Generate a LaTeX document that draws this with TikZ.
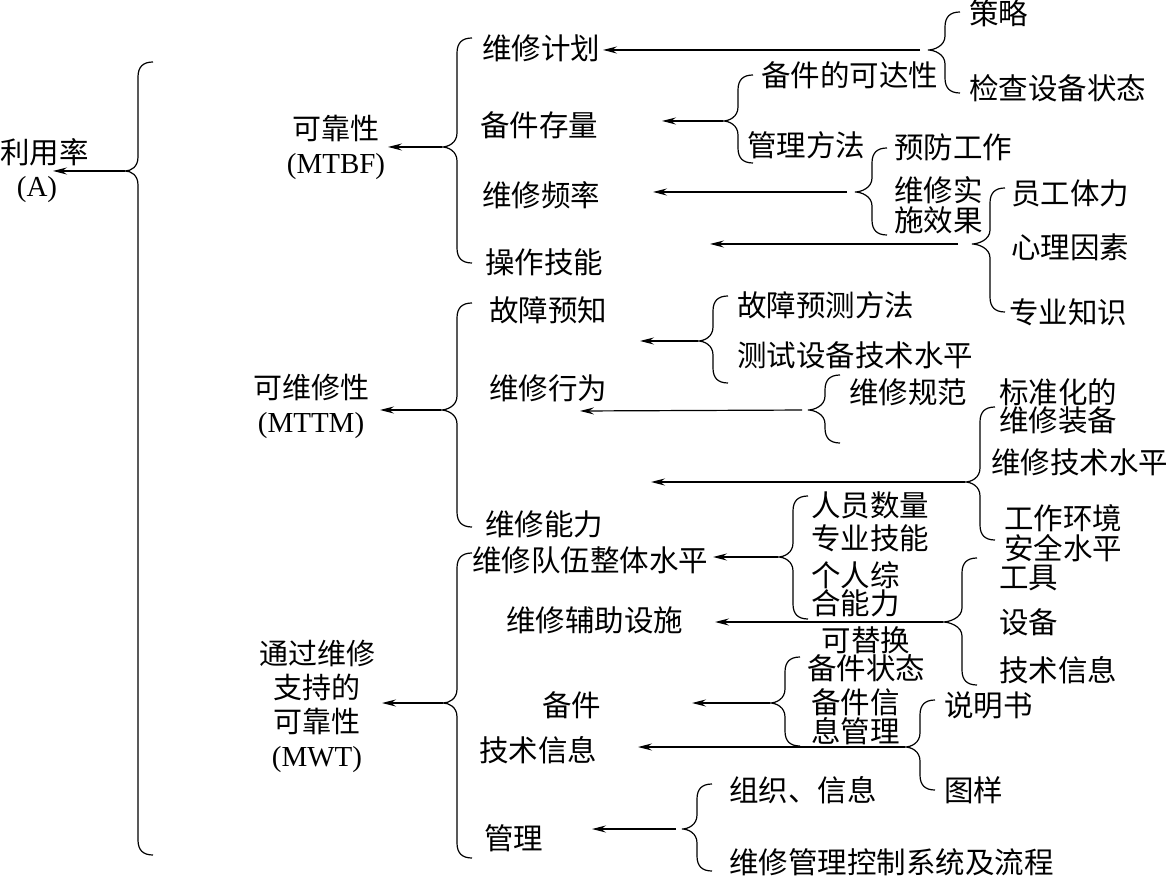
\documentclass[tikz,border=0pt]{standalone}
\usepackage{fontspec}
\setmainfont{Liberation Serif}
\newfontfamily\cjk{Noto Sans CJK SC}
\usetikzlibrary{arrows.meta}
\newcommand\cbr[6]{%
  \draw[br] (#1+15,#2) .. controls (#1+5,#2) and (#1,#2+5) .. (#1,#2+15)
    -- (#1,#3-14) .. controls (#1,#3-4) and (#5+6,#3) .. (#5,#3)
    .. controls (#5+6,#3) and (#1,#3+4) .. (#1,#3+14)
    -- (#1,#4-15) .. controls (#1,#4-5) and (#1+5,#4) .. (#1+15,#4);
  \coordinate (#6) at (#5,#3);}
\begin{document}
\begin{tikzpicture}[x=1pt,y=-1pt,
  br/.style={line width=1.2pt},
  arr/.style={line width=1.2pt,-{Stealth[length=14pt,width=7pt,inset=5pt]}},
  t/.style={anchor=west,inner sep=0pt,font=\cjk\fontsize{29.5}{30}\selectfont,align=left},
  c/.style={anchor=center,inner sep=0pt,font=\fontsize{29}{34}\selectfont,align=center}]
\useasboundingbox (0,0) rectangle (1168,882);
% braces
\cbr{138}{62}{171}{855}{125}{m}
\cbr{457}{38}{147}{263}{442}{k1}
\cbr{457}{303}{410}{527}{441}{k2}
\cbr{457}{553}{703}{858}{443}{k3}
\cbr{945}{12}{50}{93}{928}{s1}
\cbr{738}{75}{121}{163}{723}{s2}
\cbr{872}{148}{192}{235}{855}{s3}
\cbr{990}{188}{244}{312}{972}{s4}
\cbr{713}{296}{341}{383}{698}{s5}
\cbr{825}{375}{410}{443}{808}{s6}
\cbr{980}{407}{482}{540}{965}{s7}
\cbr{793}{496}{557}{619}{778}{s8}
\cbr{962}{558}{622}{685}{943}{s9}
\cbr{785}{657}{703}{746}{770}{s10}
\cbr{920}{700}{747}{790}{905}{s11}
\cbr{697}{784}{829}{871}{682}{s12}
% arrow ends
\coordinate (em) at (53,171);
\coordinate (ek1) at (388,147);
\coordinate (ek2) at (380,410);
\coordinate (ek3) at (382,703);
\coordinate (e1) at (603,50);
\coordinate (e2) at (662,121);
\coordinate (e3) at (653,192);
\coordinate (e4) at (710,244);
\coordinate (e5) at (640,341);
\coordinate (e6) at (580,411);
\coordinate (e7) at (651,482);
\coordinate (e8) at (713,557);
\coordinate (e9) at (715,622);
\coordinate (e10) at (692,703);
\coordinate (e11) at (638,747);
\coordinate (e12) at (592,829);
\draw[arr] (m) -- (em);
\draw[arr] (k1) -- (ek1);
\draw[arr] (k2) -- (ek2);
\draw[arr] (k3) -- (ek3);
\draw[arr,shorten <=8pt] (s1) -- (e1);
\draw[arr] (s2) -- (e2);
\draw[arr,shorten <=8pt] (s3) -- (e3);
\draw[arr,shorten <=14pt] (s4) -- (e4);
\draw[arr] (s5) -- (e5);
\draw[arr,shorten <=6pt] (s6) -- (e6);
\draw[arr] (s7) -- (e7);
\draw[arr] (s8) -- (e8);
\draw[arr] (s9) -- (e9);
\draw[arr] (s10) -- (e10);
\draw[arr] (s11) -- (e11);
\draw[arr,shorten <=6pt] (s12) -- (e12);
% root
\node[t] (root) at (0,152) {利用率};
\node[c] (rootA) at (37,190) {(A)};
% level 1
\node[c] (l1) at (336,147) {{\cjk 可靠性}\\(MTBF)};
\node[c] (l2) at (311,406) {{\cjk 可维修性}\\(MTTM)};
\node[c] (l3) at (317,706) {{\cjk 通过维修}\\{\cjk 支持的}\\{\cjk 可靠性}\\(MWT)};
% level 2
\node[t] (a1) at (482,48) {维修计划};
\node[t] (a2) at (480,125) {备件存量};
\node[t] (a3) at (482,195) {维修频率};
\node[t] (a4) at (485,262) {操作技能};
\node[t] (b1) at (489,310) {故障预知};
\node[t] (b2) at (489,388) {维修行为};
\node[t] (b3) at (485,524) {维修能力};
\node[t] (c1) at (472,560) {维修队伍整体水平};
\node[t] (c2) at (506,620) {维修辅助设施};
\node[t] (c3) at (542,705) {备件};
\node[t] (c4) at (479,750) {技术信息};
\node[t] (c5) at (484,838) {管理};
% level 3
\node[t] (d1) at (969,13) {策略};
\node[t] (d2) at (969,88) {检查设备状态};
\node[t] (d3) at (761,75) {备件的可达性};
\node[t] (d4) at (747,145) {管理方法};
\node[t] (d5) at (894,147) {预防工作};
\node[t] (d6) at (894,205) {维修实\\施效果};
\node[t] (d7) at (1011,193) {员工体力};
\node[t] (d8) at (1011,247) {心理因素};
\node[t] (d9) at (1009,312) {专业知识};
\node[t] (f1) at (737,305) {故障预测方法};
\node[t] (f2) at (737,355) {测试设备技术水平};
\node[t] (f3) at (849,392) {维修规范};
\node[t,font=\cjk\fontsize{29.5}{28}\selectfont] (f4) at (999,406) {标准化的\\维修装备};
\node[t] (f5) at (991,462) {维修技术水平};
\node[t] (f6) at (1004,533) {工作环境\\安全水平};
\node[t] (g1) at (811,505) {人员数量};
\node[t] (g2) at (811,538) {专业技能};
\node[t,font=\cjk\fontsize{29.5}{28}\selectfont] (g3) at (811,589) {个人综\\合能力};
\node[t] (g4) at (999,578) {工具};
\node[t] (g5) at (999,622) {设备};
\node[t] (g6) at (999,670) {技术信息};
\node[c,font=\cjk\fontsize{29.5}{28}\selectfont] (h1) at (866,654) {可替换\\备件状态};
\node[t,font=\cjk\fontsize{29.5}{29}\selectfont] (h2) at (811,717) {备件信\\息管理};
\node[t] (h3) at (944,705) {说明书};
\node[t] (h4) at (944,790) {图样};
\node[t] (h5) at (729,790) {组织、信息};
\node[t] (h6) at (729,862) {维修管理控制系统及流程};
\end{tikzpicture}
\end{document}
